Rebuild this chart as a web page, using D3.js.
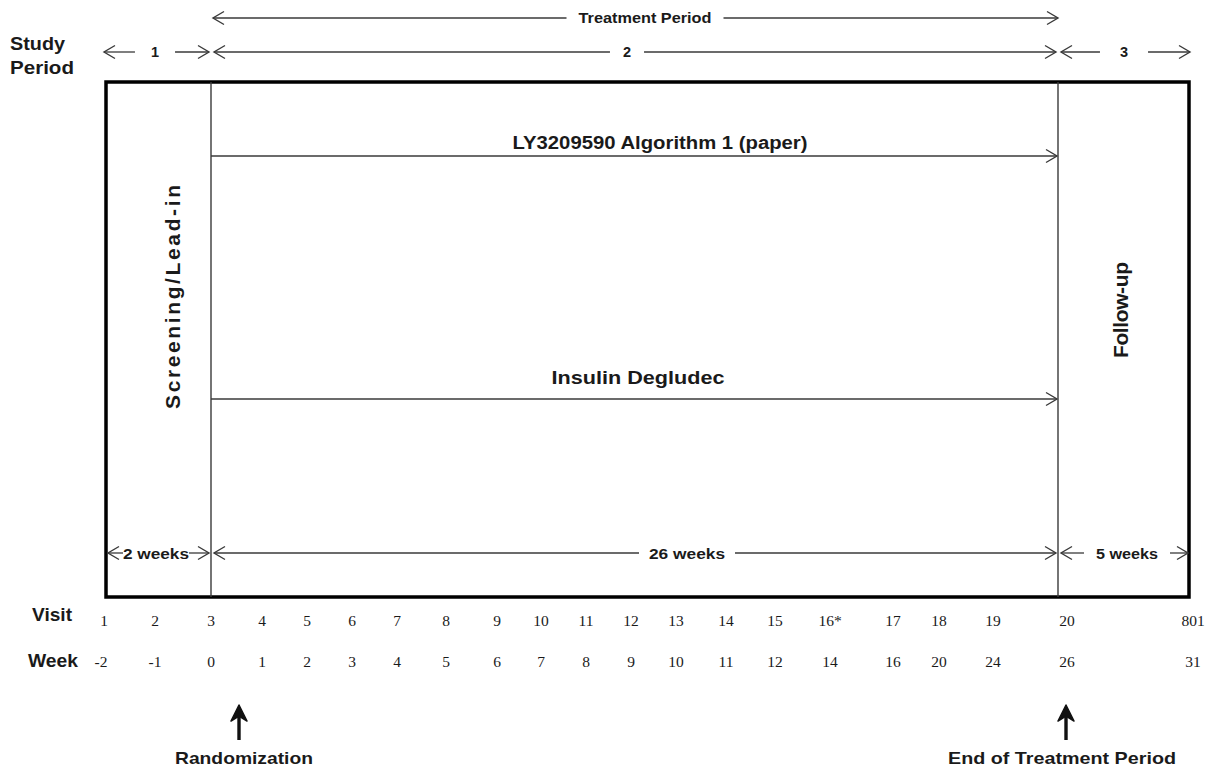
<!DOCTYPE html>
<html>
<head>
<meta charset="utf-8">
<script src="https://cdn.jsdelivr.net/npm/d3@7"></script>
<style>
  html, body { margin: 0; padding: 0; background: #fff; }
  svg { display: block; }
  .hd { font-family: "Liberation Sans", Arial, sans-serif; font-weight: bold; fill: #1a1a1a; }
  .num { font-family: "Liberation Serif", "Times New Roman", serif; fill: #1a1a1a; }
</style>
</head>
<body>
<svg id="chart" width="1212" height="771"></svg>
<script>
// ---------------- DATA ----------------
const visits = ["1","2","3","4","5","6","7","8","9","10","11","12","13","14","15","16*","17","18","19","20","801"];
const weeks  = ["-2","-1","0","1","2","3","4","5","6","7","8","9","10","11","12","14","16","20","24","26","31"];
const periodLabels = ["1","2","3"];
const periodStart  = [-2, 0, 26];
const periodEnd    = [0, 26, 31];
const durationLabels = ["2 weeks","26 weeks","5 weeks"];
const periodNames = ["Screening/Lead-in", null, "Follow-up"];
const treatments = ["LY3209590 Algorithm 1 (paper)", "Insulin Degludec"];
const treatmentStart = 0, treatmentEnd = 26;
const milestoneLabels = ["Randomization", "End of Treatment Period"];

// ---------------- LAYOUT ----------------
const W = 1212, H = 771;
const box = {left: 106, right: 1189, top: 82, bottom: 597};
// week -> x inside the schema box (piecewise, schematic)
const timeScale = d3.scaleLinear().domain([-2, 0, 26, 31]).range([box.left, 211, 1058, box.right]);
// schedule column index -> x (irregular spacing in the original table)
const columnX = [104,155,211,262,307,352,397,446,497,541,586,631,676,726,775,830,893,939,993,1067,1193];
const colScale = d3.scaleLinear().domain(d3.range(columnX.length)).range(columnX);
const milestoneX = [239, 1066];
const milestoneTextX = [244, 1062];
const milestoneTextLen = [138, 228];

const lineColor = "#3a3a3a";
const svg = d3.select("#chart");

function chevron(g, x, y, dir) { // dir -1 = points left, +1 = points right
  const L = 11, h = 6.5;
  g.append("path")
    .attr("d", `M${x - dir*L},${y - h} L${x},${y} L${x - dir*L},${y + h}`)
    .attr("fill", "none").attr("stroke", lineColor).attr("stroke-width", 1.4);
}

function hdText(sel, x, y, size, str, len) {
  const t = sel.append("text").attr("class", "hd").attr("x", x).attr("y", y)
    .attr("text-anchor", "middle").attr("dominant-baseline", "central")
    .style("font-size", size + "px").text(str);
  if (len) t.attr("textLength", len).attr("lengthAdjust", "spacingAndGlyphs");
  return t;
}

// double-headed arrow with a label in a gap
function labeledArrow(x1, x2, y, label, size, pad, opts = {}) {
  const g = svg.append("g");
  let tw = 0;
  const cx = opts.cx !== undefined ? opts.cx : (x1 + x2) / 2;
  if (label) {
    const t = hdText(g, cx, y, size, label, opts.len);
    tw = opts.len || t.node().getComputedTextLength();
  }
  const gl = cx - tw / 2 - pad, gr = cx + tw / 2 + pad;
  const segs = label ? [[x1, gl], [gr, x2]] : [[x1, x2]];
  segs.forEach(([a, b]) => {
    if (b > a) g.append("line").attr("x1", a).attr("x2", b).attr("y1", y).attr("y2", y)
      .attr("stroke", lineColor).attr("stroke-width", 1.3);
  });
  chevron(g, x1, y, -1);
  chevron(g, x2, y, 1);
}

// ---------- Treatment period (top) ----------
labeledArrow(timeScale(treatmentStart) + 2, timeScale(treatmentEnd), 18, "Treatment Period", 14.5, 12, {cx: 645, len: 133});

// ---------- Study period row ----------
svg.append("text").attr("class", "hd").attr("x", 10).attr("y", 50).style("font-size", "18px")
  .attr("textLength", 55).attr("lengthAdjust", "spacingAndGlyphs").text("Study");
svg.append("text").attr("class", "hd").attr("x", 10).attr("y", 74).style("font-size", "18px")
  .attr("textLength", 64).attr("lengthAdjust", "spacingAndGlyphs").text("Period");
periodLabels.forEach((p, i) => {
  const x1 = timeScale(periodStart[i]) + (i === 0 ? -2 : 3);
  const x2 = timeScale(periodEnd[i]) - (i === 2 ? -1 : 2);
  const cx = i === 0 ? 155 : (i === 1 ? 627 : 1124);
  labeledArrow(x1, x2, 52, p, 14.5, i === 2 ? 20 : (i === 0 ? 16 : 13), {cx});
});

// ---------- Schema box ----------
svg.append("rect").attr("x", box.left).attr("y", box.top)
  .attr("width", box.right - box.left).attr("height", box.bottom - box.top)
  .attr("fill", "none").attr("stroke", "#000").attr("stroke-width", 3.5);
[0, 26].forEach(w => {
  svg.append("line").attr("x1", timeScale(w)).attr("x2", timeScale(w))
    .attr("y1", box.top).attr("y2", box.bottom)
    .attr("stroke", lineColor).attr("stroke-width", 1.4);
});

// treatment arms
const armY = [156, 399];
const armTextY = [143, 378];
const armTextX = [660, 638];
const armTextLen = [295, 173];
treatments.forEach((tr, i) => {
  const g = svg.append("g");
  g.append("line").attr("x1", timeScale(treatmentStart)).attr("x2", timeScale(treatmentEnd) - 1)
    .attr("y1", armY[i]).attr("y2", armY[i]).attr("stroke", lineColor).attr("stroke-width", 1.3);
  chevron(g, timeScale(treatmentEnd) - 1, armY[i], 1);
  hdText(g, armTextX[i], armTextY[i], 18, tr, armTextLen[i]);
});

// rotated period names
const nameX = [172, 1120], nameY = [297, 310], nameLen = [224, 96];
[0, 2].forEach((pi, k) => {
  svg.append("text").attr("class", "hd")
    .attr("transform", `translate(${nameX[k]},${nameY[k]}) rotate(-90)`)
    .attr("text-anchor", "middle").attr("dominant-baseline", "central")
    .style("font-size", "21px")
    .attr("textLength", nameLen[k]).attr("lengthAdjust", "spacing")
    .text(periodNames[pi]);
});

// duration row
const durCx = [156, 687, 1127];
const durPad = [0, 10, 12];
const durLen = [66, 76, 62];
durationLabels.forEach((d, i) => {
  const x1 = timeScale(periodStart[i]) + (i === 0 ? 2 : 3);
  const x2 = timeScale(periodEnd[i]) - (i === 2 ? 1 : 2);
  labeledArrow(x1, x2, 553, d, 15, durPad[i], {cx: durCx[i], len: durLen[i]});
});

// ---------- Visit / Week table ----------
hdText(svg, 52, 615, 18, "Visit", 40);
hdText(svg, 53, 661, 18, "Week", 50);
svg.append("g").selectAll("text").data(visits).join("text")
  .attr("class", "num").attr("x", (d, i) => colScale(i)).attr("y", 620)
  .attr("text-anchor", "middle").attr("dominant-baseline", "central")
  .style("font-size", "15.5px").text(d => d);
svg.append("g").selectAll("text").data(weeks).join("text")
  .attr("class", "num").attr("x", (d, i) => colScale(i) - (i === 0 ? 3 : 0)).attr("y", 661)
  .attr("text-anchor", "middle").attr("dominant-baseline", "central")
  .style("font-size", "15.5px").text(d => d);

// ---------- Milestones ----------
milestoneLabels.forEach((m, i) => {
  const x = milestoneX[i];
  svg.append("line").attr("x1", x).attr("x2", x).attr("y1", 716).attr("y2", 740)
    .attr("stroke", "#111").attr("stroke-width", 3.4);
  svg.append("path").attr("d", `M${x},705 L${x + 8},721 L${x},716 L${x - 8},721 Z`)
    .attr("fill", "#111").attr("stroke", "#111").attr("stroke-width", 1.5)
    .attr("stroke-linejoin", "round");
  hdText(svg, milestoneTextX[i], 758, 17, m, milestoneTextLen[i]);
});
</script>
</body>
</html>
